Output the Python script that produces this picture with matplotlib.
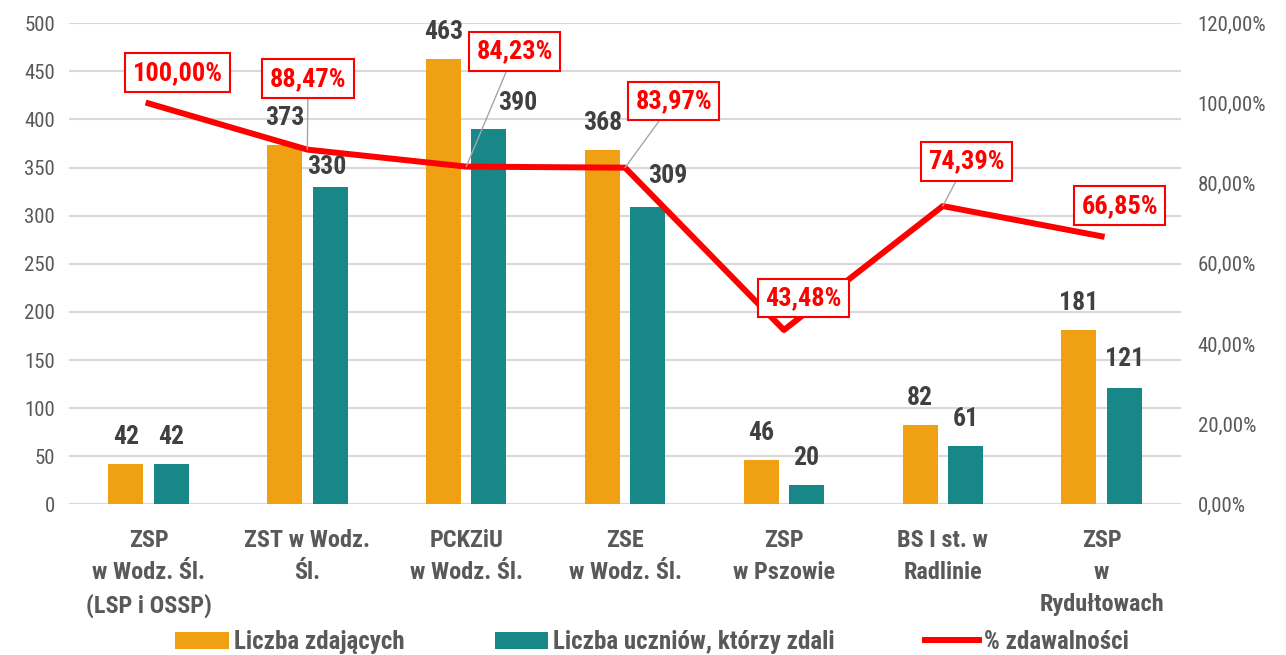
import matplotlib
matplotlib.use("Agg")
import matplotlib.pyplot as plt
import numpy as np

plt.rcParams['font.family'] = ['Roboto Condensed', 'DejaVu Sans']

# Data
schools = ["ZSP\nw Wodz. Śl.\n(LSP i OSSP)", "ZST w Wodz.\nŚl.", "PCKZiU\nw Wodz. Śl.",
           "ZSE\nw Wodz. Śl.", "ZSP\nw Pszowie", "BS I st. w\nRadlinie", "ZSP\nw\nRydułtowach"]
zdajacych = [42, 373, 463, 368, 46, 82, 181]
zdali = [42, 330, 390, 309, 20, 61, 121]
zdawalnosc = [100.00, 88.47, 84.23, 83.97, 43.48, 74.39, 66.85]

orange = '#F0A013'
teal = '#178887'
red = '#FF0000'
gray_txt = '#595959'
dark_txt = '#404040'

fig = plt.figure(figsize=(12.86, 6.55), dpi=100)
ax = fig.add_axes([0.0537, 0.230, 0.8647, 0.7346])
ax2 = ax.twinx()

x = np.arange(len(schools))
bw = 0.22
off = 0.143
b1 = ax.bar(x - off, zdajacych, bw, color=orange, label='Liczba zdających', zorder=2)
b2 = ax.bar(x + off, zdali, bw, color=teal, label='Liczba uczniów, którzy zdali', zorder=2)

ax.set_xlim(-0.5, len(schools) - 0.5)
ax.set_ylim(0, 500)
ax.set_yticks(range(0, 501, 50))
ax.yaxis.grid(True, color='#D9D9D9', linewidth=1.5)
ax.set_axisbelow(True)
for s in list(ax.spines.values()) + list(ax2.spines.values()):
    s.set_visible(False)
ax.tick_params(axis='y', length=0, labelsize=15, labelcolor=gray_txt, pad=10)
ax.tick_params(axis='x', length=0, pad=18)
ax.set_xticks(x)
ax.set_xticklabels(schools, fontsize=17.5, fontweight='bold', color=gray_txt, linespacing=1.5)

ax2.set_ylim(0, 120)
ax2.set_yticks(range(0, 121, 20))
ax2.set_yticklabels([f"{v},00%" for v in range(0, 121, 20)])
ax2.tick_params(axis='y', length=0, labelsize=15, labelcolor=gray_txt, pad=12)
line, = ax2.plot(x, zdawalnosc, color=red, linewidth=4.3, label='% zdawalności', zorder=3)

# bar value labels, offsets in points (a few moved aside as in the original)
off1 = [(0, 19.5)] * 7
off2 = [(0, 19.5), (-2, 14.5), (21, 19), (14.5, 22), (0, 19.5), (0, 19.5), (0, 20.5)]
for i in range(len(schools)):
    ax.annotate(str(zdajacych[i]), (x[i] - off, zdajacych[i]), xytext=off1[i],
                textcoords='offset points', ha='center', va='center',
                fontsize=18.5, fontweight='bold', color=dark_txt)
    ax.annotate(str(zdali[i]), (x[i] + off, zdali[i]), xytext=off2[i],
                textcoords='offset points', ha='center', va='center',
                fontsize=18.5, fontweight='bold', color=dark_txt)

# percentage labels in red boxes, with leader lines where they sit far away
pct_off = [(21, 22), (0.5, 51), (35, 83), (35, 48), (14, 23), (17, 32), (13, 22)]
leader = [False, True, True, True, False, True, False]
for i, v in enumerate(zdawalnosc):
    txt = f"{v:.2f}%".replace('.', ',')
    arrow = dict(arrowstyle='-', color='#A6A6A6', lw=1, shrinkA=0, shrinkB=0) if leader[i] else None
    ax2.annotate(txt, (x[i], v), xytext=pct_off[i], textcoords='offset points',
                 ha='center', va='center', fontsize=19, fontweight='bold', color=red,
                 bbox=dict(boxstyle='square,pad=0.28', fc='white', ec=red, lw=1.5),
                 arrowprops=arrow, zorder=5)

handles = [b1, b2, line]
fig.legend(handles, [h.get_label() for h in handles], loc='center',
           bbox_to_anchor=(0.507, 0.02), ncol=3, frameon=False,
           prop={'size': 18, 'weight': 'bold'}, labelcolor=gray_txt,
           handlelength=2.15, handleheight=0.66, columnspacing=3.6, handletextpad=0.2)

fig.savefig('out.png', dpi=100)
